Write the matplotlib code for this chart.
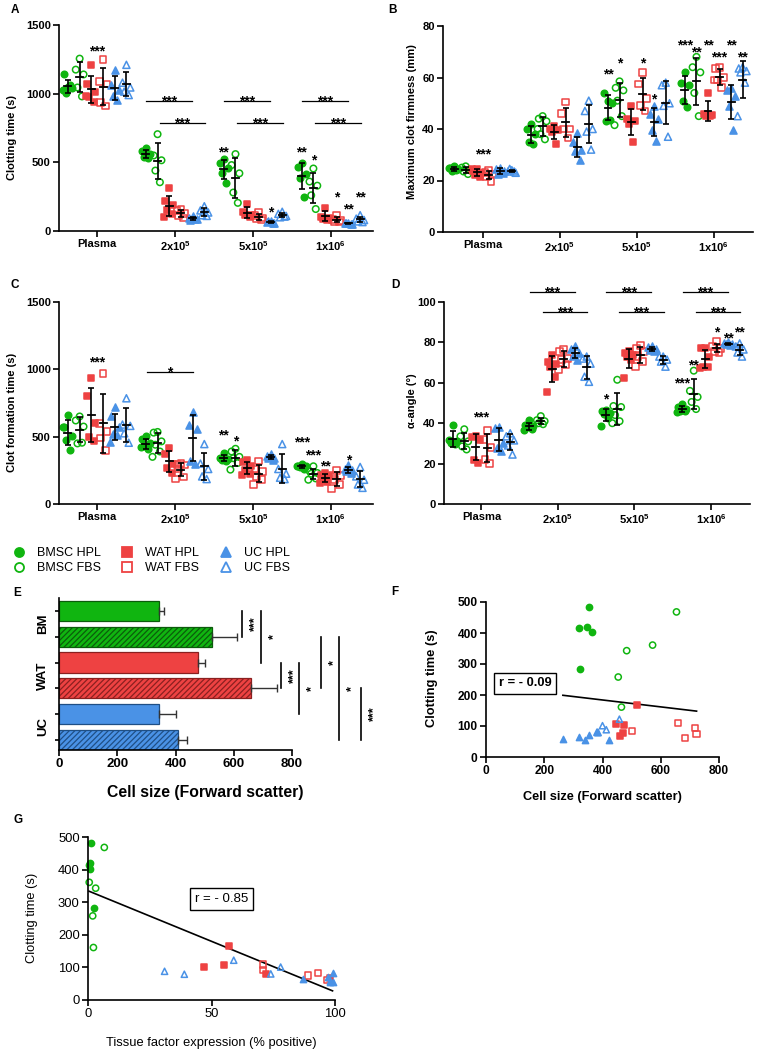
import numpy as np
import matplotlib.pyplot as plt
from matplotlib.lines import Line2D

plt.rcParams['font.family'] = ['Liberation Sans', 'DejaVu Sans']
plt.rcParams['font.weight'] = 'bold'
plt.rcParams['mathtext.fontset'] = 'custom'
plt.rcParams['mathtext.rm'] = 'Liberation Sans:bold'
plt.rcParams['mathtext.it'] = 'Liberation Sans:bold'
plt.rcParams['mathtext.bf'] = 'Liberation Sans:bold'
plt.rcParams['axes.linewidth'] = 1.2
plt.rcParams['hatch.linewidth'] = 0.9

# ---- data -------------------------------------------------------------
cats = ['Plasma', '2x10$^5$', '5x10$^5$', '1x10$^6$']
group_names = ['BMSC HPL', 'BMSC FBS', 'WAT HPL', 'WAT FBS', 'UC HPL', 'UC FBS']

# A: clotting time (s), one list per cell dose
ct_bmsc_hpl = [[1050, 1140, 1040, 1005, 1060, 1030], [605, 580, 560, 540, 530], [525, 495, 460, 420, 350], [495, 465, 415, 385, 250]]
ct_bmsc_fbs = [[1255, 1175, 1140, 1045, 980], [705, 550, 515, 440, 355], [560, 480, 420, 280, 205], [455, 360, 330, 260, 160]]
ct_wat_hpl = [[1210, 1070, 1010, 975, 940, 985], [310, 215, 190, 150, 125, 100], [200, 135, 120, 115, 100], [170, 105, 95, 85, 80]]
ct_wat_fbs = [[1250, 1090, 1070, 935, 910], [160, 150, 130, 110, 95], [135, 110, 95, 90, 80], [110, 85, 75, 70, 65]]
ct_uc_hpl = [[1175, 1065, 1025, 980, 955], [110, 95, 85, 80, 90], [75, 65, 60, 70, 55], [60, 55, 50, 58, 52]]
ct_uc_fbs = [[1210, 1080, 1045, 1015, 990], [180, 150, 135, 115, 110], [140, 125, 110, 100, 105], [115, 90, 80, 70, 65]]

# B: maximum clot firmness (mm)
mcf_bmsc_hpl = [[25.5, 25, 24.5, 23.5, 24, 25], [42, 40, 38, 35, 34], [51, 54, 50, 43, 43.5], [62, 58, 57, 51, 48.5]]
mcf_bmsc_fbs = [[25.5, 25, 24, 23.5, 22.5], [45, 44, 43, 38, 36, 40], [58.5, 56, 55, 51, 45, 41.5], [68, 64, 62, 54, 45]]
mcf_wat_hpl = [[24.5, 23.5, 23, 22, 21.5, 24.5], [41, 40, 39.5, 39, 34], [49, 44, 43, 42, 35], [54, 46, 45.5, 45, 45]]
mcf_wat_fbs = [[24, 23, 22.5, 21.5, 19.5], [50.5, 46, 40, 40, 36.5], [62, 57.5, 52, 49, 47], [64, 63.5, 60, 59, 56, 59]]
mcf_uc_hpl = [[25, 24.5, 23.5, 22.5, 23], [38.5, 35, 32, 31.5, 28], [49, 46, 44, 39.5, 35.5], [56, 55, 53, 49, 39.5]]
mcf_uc_fbs = [[24, 23.5, 23, 24.5, 23.5], [51, 47, 40, 39, 32], [58, 57, 50, 49, 37], [64, 63.5, 62.5, 62, 58, 45]]

# C: clot formation time (s)
cft_bmsc_hpl = [[660, 575, 505, 475, 400, 570], [505, 480, 450, 430, 405, 420], [380, 345, 335, 330, 320], [295, 285, 280, 275, 260, 280]]
cft_bmsc_fbs = [[650, 620, 575, 450, 455], [535, 530, 465, 440, 390, 350], [410, 390, 350, 340, 305, 255], [280, 245, 230, 225, 190, 180]]
cft_wat_hpl = [[935, 800, 600, 500, 465], [415, 375, 300, 265, 230], [325, 310, 280, 250, 225, 215], [230, 215, 205, 185, 165, 155]]
cft_wat_fbs = [[970, 600, 540, 490, 400], [300, 295, 290, 260, 200, 185], [320, 260, 240, 205, 180, 145], [250, 215, 210, 180, 145, 115]]
cft_uc_hpl = [[720, 650, 570, 520, 510, 460], [680, 590, 560, 320, 300], [375, 355, 345, 340, 330], [290, 260, 250, 245, 230]]
cft_uc_fbs = [[785, 590, 580, 525, 455], [445, 300, 260, 205, 185], [445, 260, 225, 195, 185], [275, 205, 180, 145, 120]]

# D: alpha angle (deg)
aa_bmsc_hpl = [[39, 31.5, 31, 30, 29.5], [41.5, 39, 38.5, 38, 37, 36.5], [46.5, 46, 45, 44.5, 42.5, 38.5], [49.5, 48, 47, 46, 46, 45.5]]
aa_bmsc_fbs = [[37, 33.5, 31, 28.5, 27], [43.5, 41.5, 41, 40, 39.5], [61.5, 48.5, 48, 44, 41, 40], [66, 56, 53, 50.5, 47]]
aa_wat_hpl = [[33.5, 33, 31.5, 22, 20.5], [74, 70.5, 69.5, 68, 63, 55.5], [75.5, 75, 74, 73, 71.5, 62.5], [77, 77, 73, 68, 68, 67.5]]
aa_wat_fbs = [[36.5, 32, 28, 22, 20], [76.5, 75.5, 72, 71.5, 69, 66.5], [78.5, 77, 75.5, 73, 70.5, 68], [80.5, 78, 77, 75.5, 75]]
aa_uc_hpl = [[38, 37.5, 30, 27.5, 26], [78, 76.5, 75, 73.5, 71.5], [78, 77.5, 76.5, 76, 75.5], [80, 79.5, 79, 79, 78.5]]
aa_uc_fbs = [[35, 33.5, 31.5, 29, 24.5], [73, 72, 69.5, 63, 60.5], [73, 73, 71.5, 70.5, 68], [79.5, 78, 76.5, 75, 73]]

# E: cell size (forward scatter), mean and SD
e_groups = ['BM', 'WAT', 'UC']
e_means = [342, 527, 476, 658, 342, 409]
e_sd = [19, 85, 25, 92, 58, 32]

# F / G: clotting time at 1x10^6 cells vs cell size and tissue factor
clot_bmsc_hpl = [483, 420, 415, 403, 283]
clot_bmsc_fbs = [468, 361, 343, 258, 161]
clot_wat_hpl = [167, 108, 102, 79, 69]
clot_wat_fbs = [109, 93, 84, 75, 62]
clot_uc_hpl = [57, 65, 56, 71, 82, 55]
clot_uc_fbs = [122, 101, 88, 80, 79]

fsc_bmsc_hpl = [355, 346, 320, 363, 323]
fsc_bmsc_fbs = [654, 572, 483, 454, 465]
fsc_wat_hpl = [519, 446, 474, 471, 460]
fsc_wat_fbs = [658, 717, 500, 723, 684]
fsc_uc_hpl = [264, 320, 341, 352, 381, 423]
fsc_uc_fbs = [458, 400, 413, 381, 385]

tf_bmsc_hpl = [1.2, 0.7, 0.4, 0.7, 2.3]
tf_bmsc_fbs = [6.6, 0.5, 3.1, 1.9, 2.2]
tf_wat_hpl = [57, 55, 47, 72, 98]
tf_wat_fbs = [71, 71, 93, 89, 97]
tf_uc_hpl = [98, 87, 99, 97, 99, 98]
tf_uc_fbs = [59, 78, 31, 74, 39]

fit_f = (-0.1114, 228.5)   # slope, intercept, r = -0.09
fit_g = (-3.10, 335.0)     # slope, intercept, r = -0.85

# ---- styles -------------------------------------------------------------
GREEN, RED, BLUE = '#10b510', '#ee4242', '#4a92e6'
STYLES = [(GREEN, 'o', True), (GREEN, 'o', False), (RED, 's', True),
          (RED, 's', False), (BLUE, '^', True), (BLUE, '^', False)]
MSIZE = {'o': 22, 's': 24, '^': 26}
GAP = 0.15
JIT = [0.0, -0.05, 0.05, -0.028, 0.03, -0.065]
FS = 8
FS_STAR = 10

W, H = 759, 1055
fig = plt.figure(figsize=(W / 100, H / 100), dpi=100)


def ax_at(l, t, r, b):
    return fig.add_axes([l / W, 1 - b / H, (r - l) / W, (b - t) / H])


def ftext(x, y, s, **kw):
    kw.setdefault('ha', 'center')
    kw.setdefault('va', 'center')
    fig.text(x / W, 1 - y / H, s, **kw)


def clean(ax, fs):
    for s in ['top', 'right']:
        ax.spines[s].set_visible(False)
    ax.tick_params(direction='out', length=4, width=1.2, labelsize=fs, pad=2)


def star(ax, x, y, s, lift=0.0):
    ax.annotate(s, (x, y), xytext=(0, lift - 0.59 * FS_STAR), textcoords='offset points',
                ha='center', va='baseline', fontsize=FS_STAR, annotation_clip=False)


def strip_panel(ax, groups, xlim, ylim, yticks, lines, stars):
    for g, per_cat in enumerate(groups):
        col, mk, filled = STYLES[g]
        for c, vals in enumerate(per_cat):
            base = c + (g - 2.5) * GAP
            xs = base + np.array(JIT[:len(vals)])
            ax.scatter(xs, vals, s=MSIZE[mk], marker=mk, facecolors=col if filled else 'none',
                       edgecolors=col, linewidths=1.1, zorder=2, clip_on=False)
            m, sd = np.mean(vals), np.std(vals, ddof=1)
            ax.errorbar(base, m, yerr=sd, fmt='none', ecolor='black', elinewidth=1.2,
                        capsize=2, capthick=1.2, zorder=3)
            ax.plot([base - 0.045, base + 0.045], [m, m], color='black', lw=1.3, zorder=3)
    for c, o0, o1, y, s in lines:
        ax.plot([c + o0, c + o1], [y, y], color='black', lw=0.9, clip_on=False)
        star(ax, c + (o0 + o1) / 2, y, s, lift=2.7)
    for c, g, y, s in stars:
        x = c if g is None else c + (g - 2.5) * GAP
        star(ax, x, y, s)
    ax.set_xlim(*xlim)
    ax.set_ylim(*ylim)
    ax.set_yticks(yticks)
    ax.set_xticks(range(4))
    ax.set_xticklabels(cats)
    clean(ax, FS)


def sig_pair(cs, y1, y2):
    out = []
    for c in cs:
        out.append((c, -0.37, 0.22, y1, '***'))
        out.append((c, -0.2, 0.38, y2, '***'))
    return out


# ---- A ----
axA = ax_at(59, 25, 373, 231)
strip_panel(axA, [ct_bmsc_hpl, ct_bmsc_fbs, ct_wat_hpl, ct_wat_fbs, ct_uc_hpl, ct_uc_fbs],
            (-0.49, 3.54), (0, 1500), [0, 500, 1000, 1500], sig_pair([1, 2, 3], 947, 789),
            [(0, None, 1335, '***'), (2, 0, 602, '**'), (2, 4, 165, '*'), (3, 0, 602, '**'),
             (3, 1, 541, '*'), (3, 3, 274, '*'), (3, 4, 189, '**'), (3, 5, 274, '**')])
ftext(12, 138, 'Clotting time (s)', rotation=90, fontsize=FS)
ftext(15, 10, 'A', fontsize=8.5)

# ---- B ----
axB = ax_at(443, 26, 753, 232)
strip_panel(axB, [mcf_bmsc_hpl, mcf_bmsc_fbs, mcf_wat_hpl, mcf_wat_fbs, mcf_uc_hpl, mcf_uc_fbs],
            (-0.52, 3.51), (0, 80), [0, 20, 40, 60, 80], [],
            [(0, None, 31.9, '***'), (2, 0, 62.8, '**'), (2, 1, 67, '*'), (2, 3, 67, '*'),
             (2, 4, 53.2, '*'), (3, 0, 74.2, '***'), (3, 1, 71.2, '**'), (3, 2, 74.2, '**'),
             (3, 3, 69.3, '***'), (3, 4, 74.2, '**'), (3, 5, 69.3, '**')])
ftext(412, 122, 'Maximum clot firmness (mm)', rotation=90, fontsize=FS)
ftext(392, 10, 'B', fontsize=8.5)

# ---- C ----
axC = ax_at(59, 302, 373, 504)
strip_panel(axC, [cft_bmsc_hpl, cft_bmsc_fbs, cft_wat_hpl, cft_wat_fbs, cft_uc_hpl, cft_uc_fbs],
            (-0.49, 3.54), (0, 1500), [0, 500, 1000, 1500], [(1, -0.36, 0.23, 978, '*')],
            [(0, None, 1084, '***'), (2, 0, 540, '**'), (2, 1, 495, '*'), (3, 0, 490, '***'),
             (3, 1, 391, '***'), (3, 2, 309, '**'), (3, 4, 354, '*')])
ftext(12, 412, 'Clot formation time (s)', rotation=90, fontsize=FS)
ftext(15, 285, 'C', fontsize=8.5)

# ---- D ----
axD = ax_at(444, 302, 750, 504)
strip_panel(axD, [aa_bmsc_hpl, aa_bmsc_fbs, aa_wat_hpl, aa_wat_fbs, aa_uc_hpl, aa_uc_fbs],
            (-0.49, 3.51), (0, 100), [0, 20, 40, 60, 80, 100], sig_pair([1, 2, 3], 104.8, 94.9),
            [(0, None, 44.7, '***'), (2, 0, 53.6, '*'), (3, 0, 61.9, '***'), (3, 1, 70.6, '**'),
             (3, 3, 87, '*'), (3, 4, 83.8, '**'), (3, 5, 87, '**')])
ftext(412, 401, 'α-angle (°)', rotation=90, fontsize=FS)
ftext(395, 285, 'D', fontsize=8.5)

# ---- legend ----
handles = [Line2D([], [], ls='none', marker=mk, ms=6.5, color=col,
                  markerfacecolor=col if filled else 'none', markeredgewidth=1.3)
           for col, mk, filled in STYLES]
fig.legend(handles, group_names, loc='upper left', bbox_to_anchor=(12.75 / W, 1 - 547 / H),
           ncol=3, frameon=False, borderpad=0, borderaxespad=0, handlelength=1.0,
           handletextpad=0.94, columnspacing=1.6, labelspacing=0.25,
           prop={'size': 9, 'weight': 'normal'})

# ---- E ----
axE = ax_at(59, 598, 292, 750)
e_cols = [GREEN, GREEN, RED, RED, BLUE, BLUE]
e_edges = ['#0b5c0b', '#0b5c0b', '#8a2020', '#8a2020', '#1f4f85', '#1f4f85']
ypos = np.arange(len(e_means))
for i in ypos:
    axE.barh(i, e_means[i], height=0.78, color=e_cols[i], edgecolor=e_edges[i],
             linewidth=0.9, hatch='//////' if i % 2 else None, zorder=2)
axE.errorbar(e_means, ypos, xerr=[np.zeros(len(e_sd)), e_sd], fmt='none', ecolor='#333333',
             elinewidth=1, capsize=3, capthick=1, zorder=3)
e_sig = [(629, 0, 1, '***'), (694, 0, 2, '*'), (763, 2, 3, '***'), (825, 2, 4, '*'),
         (900, 1, 3, '*'), (962, 1, 5, '*'), (1038, 3, 5, '***')]
for x, b0, b1, s in e_sig:
    axE.plot([x, x], [b0, b1], color='black', lw=1.2, clip_on=False)
    axE.annotate(s, (x, (b0 + b1) / 2), xytext=(5, 0), textcoords='offset points',
                 rotation=90, ha='left', va='center', fontsize=9, annotation_clip=False)
axE.set_xlim(0, 800)
axE.set_ylim(5.39, -0.5)
axE.set_xticks([0, 200, 400, 600, 800])
axE.set_yticks(ypos)
axE.set_yticklabels([])
clean(axE, 9.5)
axE.tick_params(axis='y', length=3)
for k, name in enumerate(e_groups):
    ftext(43, 624 + k * 51.5, name, rotation=90, fontsize=9.5)
ftext(205, 792, 'Cell size (Forward scatter)', fontsize=11.3)
ftext(17, 593, 'E', fontsize=8.5)

# ---- F and G ----
fg_sets = [(clot_bmsc_hpl, fsc_bmsc_hpl, tf_bmsc_hpl), (clot_bmsc_fbs, fsc_bmsc_fbs, tf_bmsc_fbs),
           (clot_wat_hpl, fsc_wat_hpl, tf_wat_hpl), (clot_wat_fbs, fsc_wat_fbs, tf_wat_fbs),
           (clot_uc_hpl, fsc_uc_hpl, tf_uc_hpl), (clot_uc_fbs, fsc_uc_fbs, tf_uc_fbs)]

axF = ax_at(486, 602, 719, 757)
axG = ax_at(88, 837, 335, 1000)
for ax, k, fit in [(axF, 1, fit_f), (axG, 2, fit_g)]:
    allx = []
    for (col, mk, filled), d in zip(STYLES, fg_sets):
        ax.scatter(d[k], d[0], s=20, marker=mk, facecolors=col if filled else 'none',
                   edgecolors=col, linewidths=1.1, zorder=2, clip_on=False)
        allx += d[k]
    xx = np.array([min(allx), max(allx)])
    ax.plot(xx, fit[0] * xx + fit[1], color='black', lw=1.2, zorder=1)

axF.set_xlim(0, 800)
axF.set_ylim(0, 500)
axF.set_xticks([0, 200, 400, 600, 800])
axF.set_yticks([0, 100, 200, 300, 400, 500])
clean(axF, 8.6)
axF.text(134, 238, 'r = - 0.09', ha='center', va='center', fontsize=9.3,
         bbox=dict(boxstyle='square,pad=0.35', fc='white', ec='black', lw=1))
ftext(432, 678, 'Clotting time (s)', rotation=90, fontsize=9.3)
ftext(602, 797, 'Cell size (Forward scatter)', fontsize=9.2)
ftext(395, 592, 'F', fontsize=8.5)

axG.set_xlim(0, 100)
axG.set_ylim(0, 500)
axG.set_xticks([0, 50, 100])
axG.set_yticks([0, 100, 200, 300, 400, 500])
clean(axG, 9.4)
for lbl in axG.get_xticklabels() + axG.get_yticklabels():
    lbl.set_fontweight('normal')
axG.text(54, 310, 'r = - 0.85', ha='center', va='center', fontsize=9.5, fontweight='normal',
         bbox=dict(boxstyle='square,pad=0.35', fc='white', ec='black', lw=1))
ftext(32, 918, 'Clotting time (s)', rotation=90, fontsize=9.3, fontweight='normal')
ftext(211, 1043, 'Tissue factor expression (% positive)', fontsize=9.3, fontweight='normal')
ftext(18, 820, 'G', fontsize=8.5)

fig.savefig('out.png', dpi=100)
